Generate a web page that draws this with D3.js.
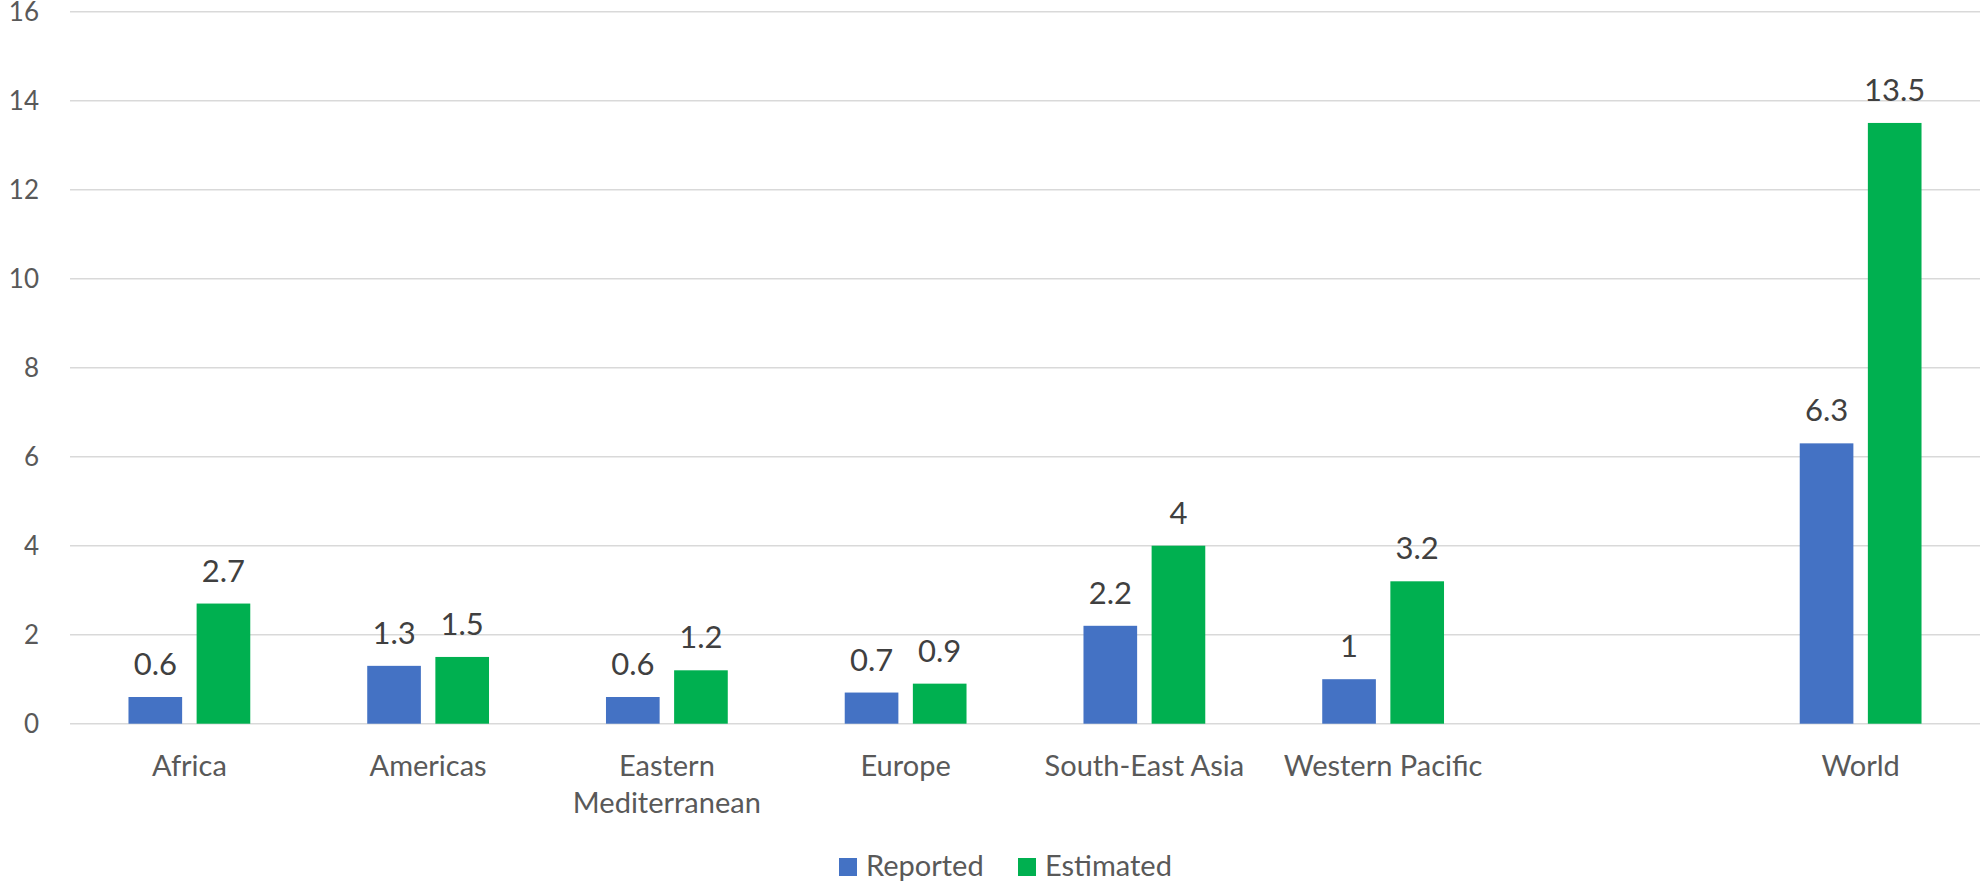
<!DOCTYPE html>
<html>
<head>
<meta charset="UTF-8">
<title>Reported vs Estimated</title>
<script src="https://cdn.jsdelivr.net/npm/d3@7"></script>
<style>
  body { margin: 0; background: #fff; }
  svg text { font-family: Lato, "Open Sans", sans-serif; }
  .tick-label { fill: #595959; font-size: 26px; }
  .cat-label { fill: #595959; font-size: 29px; }
  .val-label { fill: #404040; font-size: 31px; }
  .legend-label { fill: #595959; font-size: 29px; }
</style>
</head>
<body>
<div id="chart"></div>
<script>
// data ("" = empty slot before World)
const categories = ["Africa", "Americas", "Eastern Mediterranean", "Europe", "South-East Asia", "Western Pacific", "", "World"];
const reported = [0.6, 1.3, 0.6, 0.7, 2.2, 1, null, 6.3];
const estimated = [2.7, 1.5, 1.2, 0.9, 4, 3.2, null, 13.5];
const seriesNames = ["Reported", "Estimated"];
const seriesColors = ["#4472C4", "#00B050"];
const yTicks = [0, 2, 4, 6, 8, 10, 12, 14, 16];

const width = 1982, height = 883;
const plotLeft = 70, plotRight = 1980, plotTop = 11.7, plotBottom = 723.7;

const svg = d3.select("#chart").append("svg")
    .attr("width", width)
    .attr("height", height);

const x0 = d3.scaleBand().domain(categories).range([plotLeft, plotRight]).padding(0);
// excel style: gap width ~218%, overlap -27%
const bw = x0.bandwidth() / (2 + 0.27 + 2.18);
const x1 = d3.scaleBand().domain(seriesNames)
    .range([bw * 1.09, x0.bandwidth() - bw * 1.09])
    .paddingInner(0.27 / 1.27);
const y = d3.scaleLinear().domain([0, 16]).range([plotBottom, plotTop]);

// gridlines
svg.append("g").selectAll("line")
    .data(yTicks)
    .join("line")
    .attr("x1", plotLeft).attr("x2", plotRight)
    .attr("y1", d => y(d)).attr("y2", d => y(d))
    .attr("stroke", "#D9D9D9")
    .attr("stroke-width", 1.5);

// y labels
svg.append("g").selectAll("text")
    .data(yTicks)
    .join("text")
    .attr("class", "tick-label")
    .attr("x", 39)
    .attr("y", d => y(d) + 9)
    .attr("text-anchor", "end")
    .text(d => d);

const rows = [];
categories.forEach((c, i) => {
    if (reported[i] != null) rows.push({cat: c, s: 0, v: reported[i]});
    if (estimated[i] != null) rows.push({cat: c, s: 1, v: estimated[i]});
});

svg.append("g").selectAll("rect")
    .data(rows)
    .join("rect")
    .attr("x", d => x0(d.cat) + x1(seriesNames[d.s]))
    .attr("y", d => y(d.v))
    .attr("width", x1.bandwidth())
    .attr("height", d => y(0) - y(d.v))
    .attr("fill", d => seriesColors[d.s]);

svg.append("g").selectAll("text")
    .data(rows)
    .join("text")
    .attr("class", "val-label")
    .attr("x", d => x0(d.cat) + x1(seriesNames[d.s]) + x1.bandwidth() / 2)
    .attr("y", d => y(d.v) - 22)
    .attr("text-anchor", "middle")
    .text(d => d.v);

// category labels, wrapped if too wide
const cat = svg.append("g").selectAll("text")
    .data(categories.filter(c => c !== ""))
    .join("text")
    .attr("class", "cat-label")
    .attr("x", d => x0(d) + x0.bandwidth() / 2)
    .attr("y", 776)
    .attr("text-anchor", "middle")
    .text(d => d);

cat.each(function(d) {
    const t = d3.select(this);
    if (this.getComputedTextLength() > x0.bandwidth() - 20) {
        const words = d.split(" ");
        t.text(null);
        words.forEach((w, k) => {
            t.append("tspan")
                .attr("x", x0(d) + x0.bandwidth() / 2)
                .attr("dy", k === 0 ? 0 : 37)
                .text(w);
        });
    }
});

// legend
const legend = svg.append("g");
const legX = [839, 1018];
seriesNames.forEach((s, i) => {
    legend.append("rect")
        .attr("x", legX[i]).attr("y", 858)
        .attr("width", 18).attr("height", 18)
        .attr("fill", seriesColors[i]);
    legend.append("text")
        .attr("class", "legend-label")
        .attr("x", legX[i] + 27).attr("y", 876)
        .text(s);
});
</script>
</body>
</html>
